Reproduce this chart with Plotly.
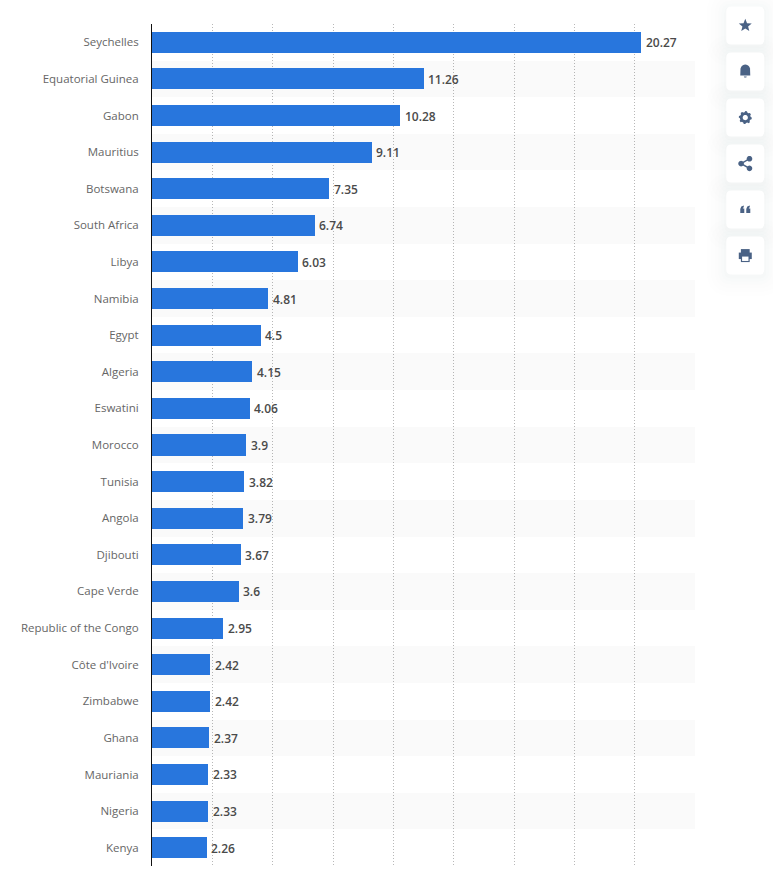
import math
import plotly.graph_objects as go

# Values

countries = [
    "Seychelles", "Equatorial Guinea", "Gabon", "Mauritius", "Botswana",
    "South Africa", "Libya", "Namibia", "Egypt", "Algeria", "Eswatini",
    "Morocco", "Tunisia", "Angola", "Djibouti", "Cape Verde",
    "Republic of the Congo", "Côte d'Ivoire", "Zimbabwe", "Ghana",
    "Mauriania", "Nigeria", "Kenya",
]
values = [
    20.27, 11.26, 10.28, 9.11, 7.35, 6.74, 6.03, 4.81, 4.5, 4.15, 4.06,
    3.9, 3.82, 3.79, 3.67, 3.6, 2.95, 2.42, 2.42, 2.37, 2.33, 2.33, 2.26,
]
axis_max = 22.5

WIDTH, HEIGHT = 773, 877
LEFT, RIGHT, TOP, BOTTOM = 151.5, 694.7, 24.4, 866.5
ICON = "#4a6285"


def px(x):
    return (x - LEFT) / (RIGHT - LEFT)


def py(y):
    return (BOTTOM - y) / (BOTTOM - TOP)


def poly(points):
    return "M" + " L".join(f"{px(x):.5f},{py(y):.5f}" for x, y in points) + " Z"


def round_rect(x0, y0, x1, y1, r):
    p = lambda x, y: f"{px(x):.5f},{py(y):.5f}"
    return (
        f"M{p(x0 + r, y0)} L{p(x1 - r, y0)} Q{p(x1, y0)} {p(x1, y0 + r)} "
        f"L{p(x1, y1 - r)} Q{p(x1, y1)} {p(x1 - r, y1)} "
        f"L{p(x0 + r, y1)} Q{p(x0, y1)} {p(x0, y1 - r)} "
        f"L{p(x0, y0 + r)} Q{p(x0, y0)} {p(x0 + r, y0)} Z"
    )


def circle(cx, cy, r, turn=1):
    return poly([(cx + r * math.cos(turn * i * math.pi / 12), cy + r * math.sin(turn * i * math.pi / 12)) for i in range(24)])


def star(cx, cy):
    pts = []
    for i in range(10):
        r = 6.8 if i % 2 == 0 else 3
        a = -math.pi / 2 + i * math.pi / 5
        pts.append((cx + r * math.cos(a), cy + r * math.sin(a)))
    return poly(pts)


def bell(cx, cy):
    pts = []
    for i in range(13):
        a = math.pi + i * math.pi / 12
        pts.append((cx + 4.8 * math.cos(a), cy - 1.5 + 5 * math.sin(a)))
    pts += [(cx + 5, cy + 4.5), (cx - 5, cy + 4.5)]
    return [
        poly(pts),
        poly([(cx - 1.5, cy + 5.5), (cx + 1.5, cy + 5.5), (cx + 1, cy + 6.5), (cx - 1, cy + 6.5)]),
    ]


def gear(cx, cy):
    pts = []
    for i in range(48):
        a = i * math.pi / 24
        r = 6.5 if (i // 3) % 2 == 0 else 5.4
        pts.append((cx + r * math.cos(a), cy + r * math.sin(a)))
    return poly(pts) + " " + circle(cx, cy, 2.6, -1)


def share(cx, cy):
    a, b, c = (cx + 4.2, cy - 4.8), (cx - 4.2, cy), (cx + 4.2, cy + 4.8)
    return [
        circle(*a, 2.8), circle(*b, 2.8), circle(*c, 2.8),
        poly([(a[0], a[1] - 0.8), (b[0], b[1] - 0.8), (b[0], b[1] + 0.8), (a[0], a[1] + 0.8)]),
        poly([(c[0], c[1] - 0.8), (b[0], b[1] - 0.8), (b[0], b[1] + 0.8), (c[0], c[1] + 0.8)]),
    ]


def quotes(cx, cy):
    out = []
    for dx in (-5, 1):
        x = cx + dx
        out.append(poly([(x, cy - 0.5), (x + 1, cy - 3), (x + 3.5, cy - 4), (x + 3.5, cy - 2.5), (x + 2.4, cy - 1),
                         (x + 4, cy - 1), (x + 4, cy + 3.5), (x, cy + 3.5)]))
    return out


def printer(cx, cy):
    return [
        poly([(cx - 4.4, cy - 6.5), (cx + 4.4, cy - 6.5), (cx + 4.4, cy - 2.5), (cx - 4.4, cy - 2.5)]),
        poly([(cx - 6.5, cy - 3), (cx + 6.5, cy - 3), (cx + 6.5, cy + 3.5), (cx - 6.5, cy + 3.5)]),
        poly([(cx - 4.4, cy), (cx + 4.4, cy), (cx + 4.4, cy + 6.5), (cx - 4.4, cy + 6.5)]),
    ]


def printer_paper(cx, cy):
    return poly([(cx - 3.2, cy + 1), (cx + 3.2, cy + 1), (cx + 3.2, cy + 5.4), (cx - 3.2, cy + 5.4)])


fig = go.Figure()

# Alternating row stripes, drawn as bars so they follow the category axis

fig.add_trace(go.Bar(
    y=countries[1::2],
    x=[axis_max] * len(countries[1::2]),
    orientation="h",
    width=1,
    marker=dict(color="rgba(0,0,0,0.02)", line_width=0),
    hoverinfo="skip",
))

fig.add_trace(go.Bar(
    y=countries,
    x=values,
    orientation="h",
    width=0.575,
    marker=dict(color="#2876dd", line_width=0),
))

# Value labels

for country, value in zip(countries, values):
    fig.add_annotation(
        x=value,
        y=country,
        text=str(value),
        showarrow=False,
        xanchor="left",
        xshift=2.5,
        yshift=-0.5,
        font=dict(family="Open Sans", size=12, color="#4a4a4a", weight=600),
    )

# Toolbar on the right

shapes = []
tops = [7, 53, 99, 145, 191, 237]
for y in tops:
    for grow, alpha in [(20, 0.003), (16, 0.004), (12, 0.005), (8, 0.006), (5, 0.008), (2, 0.012)]:
        shapes.append(dict(type="path", path=round_rect(726 - grow, y - grow + 2, 764 + grow, y + 38 + grow + 2, 5 + grow),
                           xref="paper", yref="paper", fillcolor=f"rgba(60,80,120,{alpha})", line_width=0))
for y in tops:
    shapes.append(dict(type="path", path=round_rect(726, y, 764, y + 38, 5), xref="paper", yref="paper",
                       fillcolor="white", line_width=0))

icons = [[star(745, 26)], bell(745, 71.5), [gear(745, 118)], share(745, 164), quotes(745, 210), printer(745, 256)]
for group in icons:
    for path in group:
        shapes.append(dict(type="path", path=path, xref="paper", yref="paper", fillcolor=ICON, line_width=0))
shapes.append(dict(type="path", path=printer_paper(745, 256), xref="paper", yref="paper", fillcolor="white", line_width=0))

fig.update_layout(
    width=WIDTH,
    height=HEIGHT,
    margin=dict(l=LEFT, r=WIDTH - RIGHT, t=TOP, b=HEIGHT - BOTTOM, pad=0),
    plot_bgcolor="white",
    paper_bgcolor="white",
    barmode="overlay",
    showlegend=False,
    bargap=0,
    shapes=shapes,
    font=dict(family="Open Sans"),
)
fig.update_xaxes(
    range=[0, axis_max],
    dtick=2.5,
    showticklabels=False,
    showgrid=True,
    gridcolor="#b8b8b8",
    griddash="1px,2px",
    gridwidth=1,
    zeroline=False,
    showline=False,
)
fig.update_yaxes(
    categoryorder="array",
    categoryarray=countries,
    autorange="reversed",
    showgrid=False,
    showline=True,
    linecolor="#111111",
    linewidth=1,
    ticks="",
    ticklabelstandoff=10,
    tickfont=dict(family="Open Sans", size=11.5, color="#666666"),
)

fig.write_html(
    "out.html",
    config=dict(displayModeBar=False),
    post_script="document.body.style.margin='0';document.body.style.overflow='hidden';",
)
